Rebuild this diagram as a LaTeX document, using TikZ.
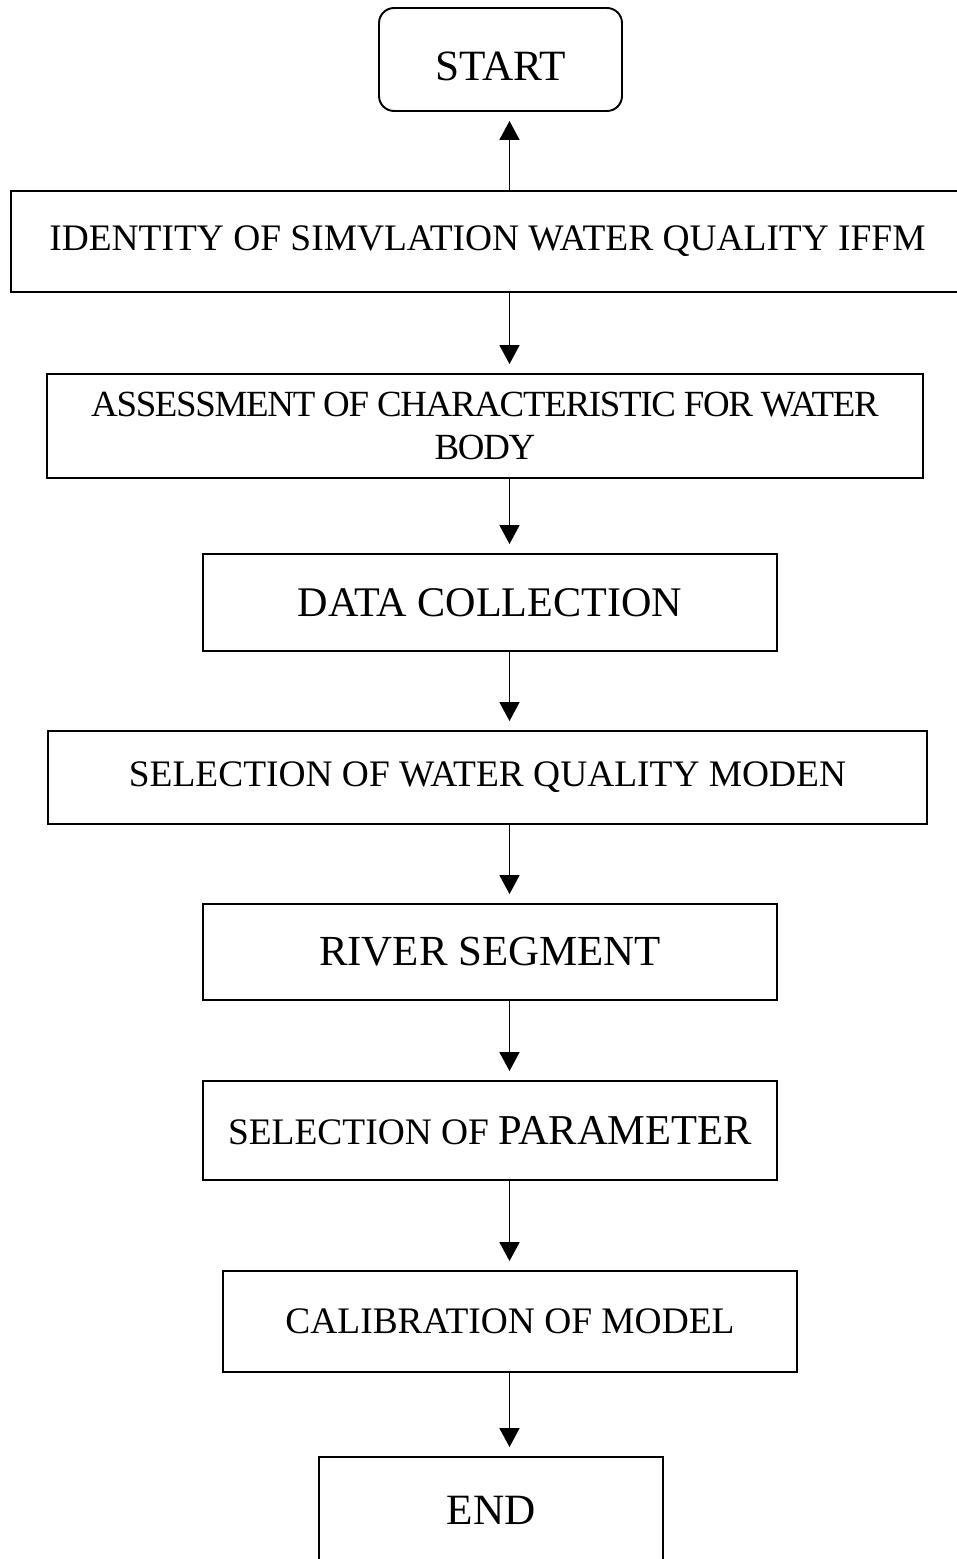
\documentclass[tikz,border=0pt]{standalone}
\usepackage{fontspec}
\setmainfont{Liberation Serif}
\newfontfamily\tightserif[LetterSpace=-3.5]{Liberation Serif}
\usetikzlibrary{arrows.meta}

\begin{document}
\begin{tikzpicture}[x=0.02cm, y=-0.02cm,
      every node/.style={draw, line width=1.1pt, align=center, inner sep=0pt},
      big/.style={font=\fontsize{24.6}{29}\selectfont},
      mid/.style={font=\fontsize{21.3}{25}\selectfont},
      flow/.style={line width=1pt, shorten >=0.18cm, -{Triangle[width=0.4cm,length=0.38cm]}}]

      \useasboundingbox (0,0) rectangle (957,1559);

      % stages, top to bottom
      \node[big, rounded corners=0.3cm, minimum width=4.86cm, minimum height=2.06cm] (start) at (500.5,59.5) {\raisebox{-4pt}[\height][\depth]{START}};
      \node[mid, minimum width=19.06cm, minimum height=2.02cm] (ident) at (487.5,241.5) {IDENTITY OF SIMVLATION WATER QUALITY IFFM};
      \node[font=\tightserif\fontsize{21}{24}\selectfont, minimum width=17.52cm, minimum height=2.08cm] (assess) at (485,426) {ASSESSMENT OF CHARACTERISTIC FOR WATER\\BODY};
      \node[font=\fontsize{24}{28}\selectfont, minimum width=11.48cm, minimum height=1.94cm] (data) at (490,602.5) {DATA COLLECTION};
      \node[mid, minimum width=17.58cm, minimum height=1.86cm] (model) at (487.5,777.5) {SELECTION OF WATER QUALITY MODEN};
      \node[font=\fontsize{24.4}{28}\selectfont, minimum width=11.48cm, minimum height=1.92cm] (river) at (490,952) {RIVER SEGMENT};
      \node[mid, minimum width=11.48cm, minimum height=1.98cm] (param) at (490,1130.5) {SELECTION OF {\fontsize{24.2}{28}\selectfont PARAMETER}};
      \node[mid, minimum width=11.48cm, minimum height=2.02cm] (calib) at (510,1321.5) {CALIBRATION OF MODEL};
      \node[big, minimum width=6.88cm, minimum height=2.12cm] (end) at (491,1510) {END};

      % connectors
      \coordinate (axis) at (509.5,0);
      \draw[flow] (ident.north -| axis) -- (start.south -| axis);
      \foreach \a/\b in {ident/assess, assess/data, data/model, model/river, river/param, param/calib, calib/end}
        \draw[flow] (\a.south -| axis) -- (\b.north -| axis);
\end{tikzpicture}
\end{document}
